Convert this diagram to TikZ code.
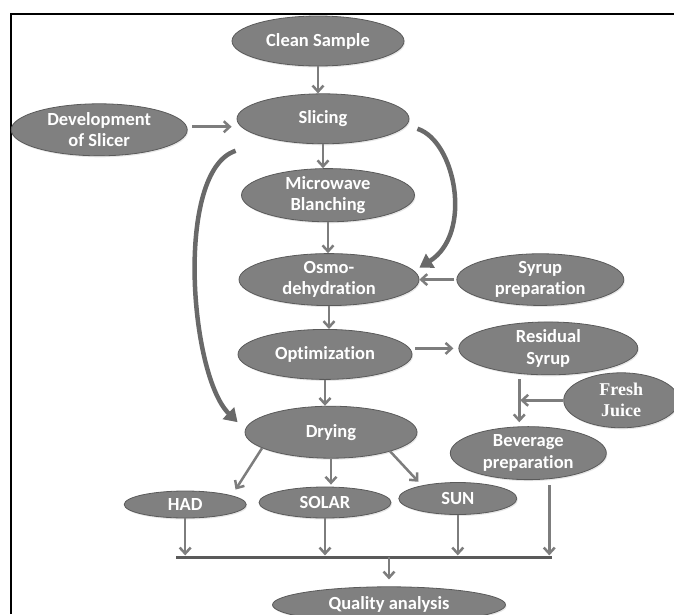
\documentclass[tikz,border=0pt]{standalone}
\usepackage{fontspec}
\setmainfont{Carlito}[Ligatures=NoCommon]
\newfontfamily\timesfont{Liberation Serif}
\usepackage{tikz}
\usetikzlibrary{shapes.geometric, positioning, calc, shadows}
\usetikzlibrary{arrows.meta}
\tikzset{>={Straight Barb[width=11pt,length=6pt]}}
\definecolor{ovalfill}{RGB}{128,128,128}
\definecolor{ovalline}{RGB}{90,90,90}
\definecolor{linkgray}{RGB}{125,125,125}
\definecolor{curvegray}{RGB}{105,105,105}

\begin{document}
\begin{tikzpicture}[oval/.style={ellipse, draw=ovalline, fill=ovalfill, line width=0.8pt, text=white, align=center, inner sep=0pt, font=\fontsize{18.5}{21.5}\selectfont\bfseries, drop shadow={opacity=0.2, shadow xshift=1pt, shadow yshift=-1.5pt}}, link/.style={->, draw=linkgray, line width=2.5pt}, bus/.style={draw=ovalline, line width=2.5pt}, curved/.style={-{Triangle[length=13pt,width=16pt]}, draw=curvegray, line width=4.5pt}]

    \useasboundingbox (0pt,0pt) rectangle (674pt,-614pt);
    \draw[line width=2.5pt] (11pt,-614pt) -- (11pt,-14pt) -- (674pt,-14pt);

    %Nodes
    \node[oval, minimum width=172pt, minimum height=50pt](clean) at (318pt,-41pt){Clean Sample};
    \node[oval, minimum width=172pt, minimum height=50pt](slicing)[below=27pt of clean, xshift=5pt]{Slicing};
    \node[oval, minimum width=176pt, minimum height=52pt](dev)[left=49pt of slicing, yshift=-11pt]{Development\\of Slicer};
    \node[oval, minimum width=173pt, minimum height=52pt](micro)[below=24pt of slicing, xshift=5pt]{Microwave\\Blanching};
    \node[oval, minimum width=180pt, minimum height=52pt](osmo)[below=31pt of micro, xshift=1pt]{Osmo-\\dehydration};
    \node[oval, minimum width=167pt, minimum height=46pt](syrup)[right=37pt of osmo]{Syrup\\preparation};
    \node[oval, minimum width=174pt, minimum height=50pt](opt)[below=23pt of osmo, xshift=-4pt]{Optimization};
    \node[oval, minimum width=179pt, minimum height=44pt](resid)[right=46pt of opt, yshift=6pt]{Residual\\Syrup};
    \node[oval, minimum width=115pt, minimum height=55pt, font=\fontsize{18}{21}\selectfont\timesfont\bfseries](fresh)[below=24pt of resid.east, xshift=-17pt]{Fresh\\Juice};
    \node[oval, minimum width=156pt, minimum height=53pt](bev)[below=51pt of resid, xshift=-20pt]{Beverage\\preparation};
    \node[oval, minimum width=172pt, minimum height=52pt](drying)[below=26pt of opt, xshift=6pt]{Drying};
    \node[oval, minimum width=132pt, minimum height=31pt](solar)[below=28pt of drying, xshift=-6pt]{SOLAR};
    \node[oval, minimum width=122pt, minimum height=27pt](had)[left=12pt of solar, yshift=-2pt]{HAD};
    \node[oval, minimum width=118pt, minimum height=32pt](sun)[right=7pt of solar, yshift=4pt]{SUN};
    \node[oval, minimum width=233pt, minimum height=36pt](quality)[below=68pt of solar, xshift=64pt]{Quality analysis};

    \coordinate (syrupdrop) at ([xshift=-29pt]resid.south);
    \coordinate (bus) at ([yshift=29pt]quality.north);

    %Lines
    \draw[link] (clean.south) -- (clean.south |- slicing.north);
    \draw[link, shorten <=5pt, shorten >=5pt] (dev.2) -- (dev.2 -| slicing.west);
    \draw[link] (slicing.south) -- (slicing.south |- micro.north);
    \draw[link] (micro.south) -- (micro.south |- osmo.north);
    \draw[link, shorten <=2pt] (syrup.west) -- (osmo.east);
    \draw[link] (osmo.south) -- (osmo.south |- opt.north);
    \draw[link, shorten <=3pt, shorten >=5pt] (opt.east |- resid.west) -- (resid.west);
    \draw[link] (opt.south) -- (opt.south |- drying.north);
    \draw[link, shorten <=4pt, shorten >=4pt] (syrupdrop) -- (syrupdrop |- bev.north);
    \draw[link, shorten >=1pt] (fresh.west) -- (fresh.west -| syrupdrop);
    \draw[link, shorten >=7pt] (drying.-167) -- (had.11);
    \draw[link, shorten >=2pt] (drying.south) -- (drying.south |- solar.north);
    \draw[link, shorten >=5pt] (drying.-18) -- (sun.160);
    \draw[bus] ($(had.south |- bus)+(-9pt,0)$) -- ($(bev.-51 |- bus)+(3pt,0)$);
    \draw[link, shorten >=2pt] (had.south) -- (had.south |- bus);
    \draw[link, shorten >=2pt] (solar.south) -- (solar.south |- bus);
    \draw[link, shorten >=2pt] (sun.south) -- (sun.south |- bus);
    \draw[link, shorten <=6pt, shorten >=2pt] (bev.-51) -- (bev.-51 |- bus);
    \draw[link, shorten >=7pt] (bus) -- (quality.north);
    \draw[curved] ([xshift=8pt,yshift=-10pt]slicing.east) .. controls +(38pt,-12pt) and +(54pt,34pt) .. ([yshift=12pt]osmo.east);
    \draw[curved] ([xshift=-1pt,yshift=-32pt]slicing.west) .. controls +(-61pt,-20pt) and +(-48pt,47pt) .. ([xshift=-7pt,yshift=10pt]drying.west);

\end{tikzpicture}
\end{document}
